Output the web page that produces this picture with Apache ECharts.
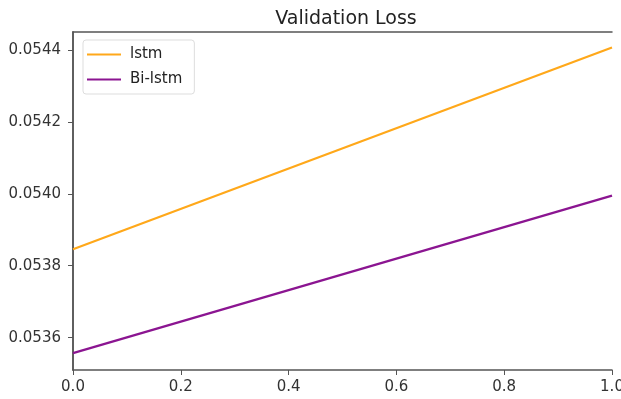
<!DOCTYPE html>
<html><head><meta charset="utf-8">
<script src="https://cdn.jsdelivr.net/npm/echarts@6/dist/echarts.min.js"></script>
<style>html,body{margin:0;padding:0;background:#fff}#c{width:621px;height:399px}</style>
</head><body><div id="c"></div>
<script>
const title = "Validation Loss";
const xValues = [0, 1];
const lstm = [0.053846, 0.054407];
const biLstm = [0.053557, 0.053995];
const seriesNames = ["lstm", "Bi-lstm"];
const yTicks = [0.0536, 0.0538, 0.0540, 0.0542, 0.0544];
const xTicks = [0, 0.2, 0.4, 0.6, 0.8, 1.0];

const chart = echarts.init(document.getElementById('c'));
const font = 'DejaVu Sans';
const spine = { show: true, lineStyle: { color: '#555', width: 1.5 } };
const yMin = 0.05351, yMax = 0.05445;
chart.setOption({
  animation: false,
  backgroundColor: '#fff',
  title: { text: title, left: 341, top: 5, textAlign: 'center',
    textStyle: { fontFamily: font, fontSize: 19, fontWeight: 'normal', color: '#222' } },
  grid: { left: 73, right: 9, top: 32, bottom: 29, outerBoundsMode: 'none', containLabel: false },
  legend: {
    orient: 'vertical', left: 83, top: 40, padding: [7, 12, 7, 4],
    borderColor: '#ddd', borderWidth: 1, borderRadius: 3, backgroundColor: '#fff',
    itemWidth: 34, itemHeight: 2, itemGap: 10,
    icon: 'rect',
    textStyle: { fontFamily: font, fontSize: 15, color: '#222', padding: [0, 0, 0, 4] },
    data: seriesNames
  },
  xAxis: [{
    type: 'value', min: 0, max: 1,
    axisLine: spine,
    axisTick: { show: true, customValues: xTicks, length: 5, lineStyle: { color: '#555' } },
    axisLabel: { customValues: xTicks, fontFamily: font, fontSize: 15, color: '#333', margin: 10,
      formatter: v => v.toFixed(1) },
    splitLine: { show: false }
  }, {
    type: 'value', min: 0, max: 1, position: 'top',
    axisLine: spine, axisTick: { show: false }, axisLabel: { show: false }, splitLine: { show: false }
  }],
  yAxis: [{
    type: 'value', min: yMin, max: yMax,
    axisLine: spine,
    axisTick: { show: true, customValues: yTicks, length: 5, lineStyle: { color: '#555' } },
    axisLabel: { customValues: yTicks, fontFamily: font, fontSize: 15, color: '#333', margin: 12,
      formatter: v => v.toFixed(4) },
    splitLine: { show: false }
  }, {
    type: 'value', min: yMin, max: yMax, position: 'right',
    axisLine: spine, axisTick: { show: false }, axisLabel: { show: false }, splitLine: { show: false }
  }],
  series: [
    { name: seriesNames[0], type: 'line', data: xValues.map((x, i) => [x, lstm[i]]),
      showSymbol: false, lineStyle: { color: '#FFA81A', width: 2.2 }, itemStyle: { color: '#FFA81A' } },
    { name: seriesNames[1], type: 'line', data: xValues.map((x, i) => [x, biLstm[i]]),
      showSymbol: false, lineStyle: { color: '#8B1591', width: 2.2 }, itemStyle: { color: '#8B1591' } }
  ]
});
</script>
</body></html>
